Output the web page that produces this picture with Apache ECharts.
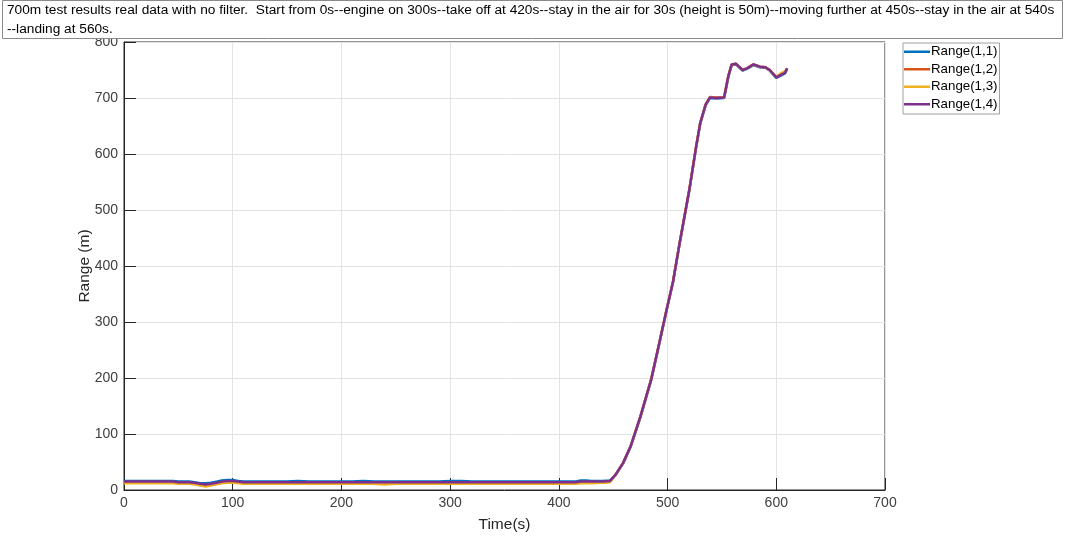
<!DOCTYPE html>
<html><head><meta charset="utf-8">
<script src="https://cdn.jsdelivr.net/npm/echarts@6/dist/echarts.min.js"></script>
<style>html,body{margin:0;padding:0;background:#fff}#c{width:1066px;height:539px}</style>
</head><body><div id="c"></div>
<script>
const titleText = "700m test results real data with no filter.  Start from 0s--engine on 300s--take off at 420s--stay in the air for 30s (height is 50m)--moving further at 450s--stay in the air at 540s\n--landing at 560s.";
const seriesNames = ["Range(1,1)", "Range(1,2)", "Range(1,3)", "Range(1,4)"];
const xTicks = [0, 100, 200, 300, 400, 500, 600, 700];
const yTicks = [0, 100, 200, 300, 400, 500, 600, 700, 800];
const time = [0,5,10,15,20,25,30,35,40,45,50,55,60,65,70,75,80,85,90,95,100,105,110,120,130,140,150,160,170,180,190,200,210,220,230,240,250,260,270,280,290,300,310,320,330,340,350,360,370,380,390,400,410,415,420,425,430,440,447,
  452,459,466,475,485,493,499,505,511,520,526,530,535,539,545,552,556,559,563,569,573,579,585,590,594,600,605,608,610];
const range11 = [16,16,16,16,16,16,16,16,16,16, 15,15,15,14,12,12,13,15,17,18, 18,16,15,15,15,15,15,16,15,15, 15,15,15,16,15,15,15,15,15,15, 15,16,16,15,15,15,15,15,15,15, 15,15,15,15,17,17,16,16,17,
  26,47,77,130,197,267,320,371,439,535,609,654,687,700,699,700,739,759,760,749,752,759,755,754,749,736,741,744,752];
const range12 = [13,13,13,13,13,13,13,13,13,13, 12,12,12,11,9,8,9,11,13,14, 14,13,12,12,12,12,12,12,12,12, 12,12,12,12,12,11,12,12,12,12, 12,12,12,12,12,12,12,12,12,12, 12,12,12,12,13,13,13,13,15,
  27,48,78,131,198,268,321,372,440,536,610,655,688,702,701,702,740,760,761,750,753,760,756,755,750,737,743,746,753];
const range13 = [12,12,12,12,12,12,12,12,12,12, 11,11,11,10,8,6,8,10,12,13, 13,12,11,11,11,11,11,11,11,11, 11,11,11,11,11,10,11,11,11,11, 11,11,11,11,11,11,11,11,11,11, 11,11,11,11,12,12,12,13,14,
  27,48,78,131,198,268,321,372,440,536,610,655,688,701,700,701,740,760,761,750,753,760,756,755,750,738,745,748,752];
const range14 = [15,15,15,15,15,15,15,15,15,15, 14,14,14,13,11,10,11,13,15,16, 16,15,14,14,14,14,14,14,14,14, 14,14,14,14,14,14,14,14,14,14, 14,14,14,14,14,14,14,14,14,14, 14,14,14,14,15,15,15,15,16,
  27,48,78,131,198,268,321,372,440,536,610,655,688,701,700,701,740,760,761,750,753,760,756,755,750,737,742,745,753];
const allValues = [range11, range12, range13, range14];
const colors = ["#0072BD", "#D95319", "#EDB120", "#7E2F8E"];

const chart = echarts.init(document.getElementById('c'));
const axisCol = '#262626';
const font = 'Liberation Sans, Arial, sans-serif';
const series = seriesNames.map((n, i) => ({
  name: n, type: 'line', symbol: 'none', showSymbol: false,
  data: time.map((t, k) => [t, allValues[i][k]]),
  lineStyle: { width: 2.5, color: colors[i] }, itemStyle: { color: colors[i] },
  animation: false, z: 2 + i
}));
// tick-only helper axes shifted into the grid so their ticks point inward
function tickAxis(pos, min, max, interval) {
  return {
    type: 'value', position: pos, offset: -6, min: min, max: max, interval: interval,
    axisLine: { show: false }, axisLabel: { show: false }, splitLine: { show: false },
    axisTick: { show: true, inside: false, length: 6, lineStyle: { color: axisCol } }
  };
}
chart.setOption({
  animation: false,
  backgroundColor: '#fff',
  title: {
    text: titleText, left: 2, top: 0, z: 20,
    backgroundColor: '#fff', borderColor: '#8a8a8a', borderWidth: 1,
    padding: [1, 8, 0, 5],
    textStyle: { fontFamily: font, fontSize: 13.7, fontWeight: 'normal', color: '#000', lineHeight: 19 }
  },
  legend: {
    data: seriesNames, orient: 'vertical', left: 903, top: 43,
    backgroundColor: '#fff', borderColor: '#a0a0a0', borderWidth: 1,
    padding: [1, 2, 2, 1], itemWidth: 26, itemHeight: 2.5, itemGap: 2,
    icon: 'rect',
    textStyle: { fontFamily: font, fontSize: 13.3, color: '#000', padding: [0, 0, 0, -4], lineHeight: 15.5 }
  },
  grid: { left: 124, right: 181, top: 42, bottom: 49, show: true, borderColor: axisCol, borderWidth: 1 },
  xAxis: [{
    type: 'value', min: xTicks[0], max: xTicks[xTicks.length - 1], interval: 100,
    name: 'Time(s)', nameLocation: 'middle', nameGap: 27,
    nameTextStyle: { fontFamily: font, fontSize: 15.5, color: axisCol },
    axisLine: { onZero: false, lineStyle: { color: axisCol } },
    axisTick: { show: false },
    axisLabel: { fontFamily: font, fontSize: 14, color: '#404040', margin: 6 },
    splitLine: { show: true, lineStyle: { color: '#e3e3e3' } }
  }, tickAxis('bottom', 0, 700, 100), tickAxis('top', 0, 700, 100)],
  yAxis: [{
    type: 'value', min: yTicks[0], max: yTicks[yTicks.length - 1], interval: 100,
    name: 'Range (m)', nameLocation: 'middle', nameGap: 31, nameRotate: 90, nameMoveOverlap: false,
    nameTextStyle: { fontFamily: font, fontSize: 15.5, color: axisCol },
    axisLine: { show: true, lineStyle: { color: axisCol } },
    axisTick: { show: false },
    axisLabel: { fontFamily: font, fontSize: 14, color: '#404040', margin: 6 },
    splitLine: { show: true, lineStyle: { color: '#e3e3e3' } }
  }, tickAxis('left', 0, 800, 100), tickAxis('right', 0, 800, 100)],
  series: series
});
</script></body></html>
